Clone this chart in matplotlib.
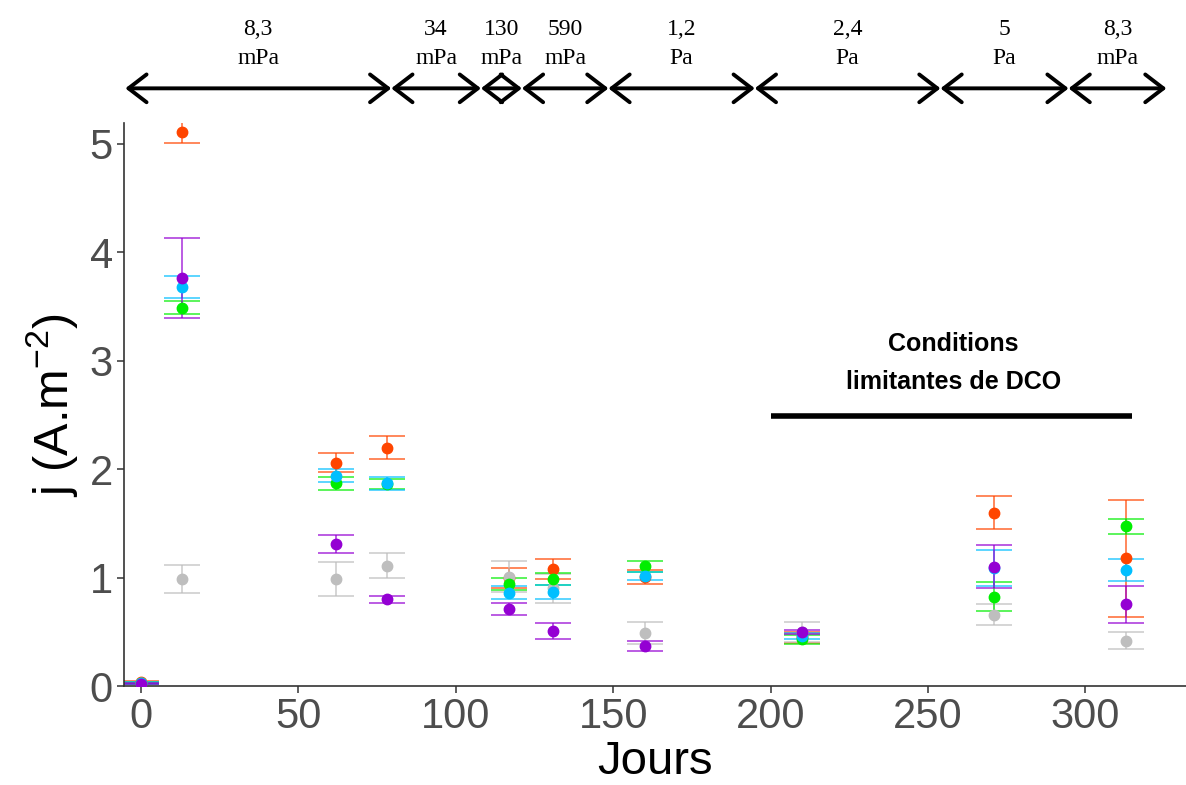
import matplotlib
matplotlib.use('Agg')
import matplotlib.pyplot as plt

# jours de mesure
jours = [0, 13, 62, 78, 117, 131, 160, 210, 271, 313]

# densite de courant moyenne et ecart-type par serie
j_orange = [0.04, 5.11, 2.06, 2.20, 0.995, 1.08, 1.005, 0.45, 1.60, 1.18]
e_orange = [0.01, 0.10, 0.085, 0.11, 0.095, 0.09, 0.065, 0.05, 0.155, 0.54]
j_gris = [0.03, 0.99, 0.99, 1.11, 1.01, 0.90, 0.49, 0.50, 0.66, 0.42]
e_gris = [0.01, 0.13, 0.155, 0.115, 0.14, 0.13, 0.10, 0.09, 0.10, 0.075]
j_vert = [0.03, 3.49, 1.87, 1.86, 0.945, 0.99, 1.105, 0.43, 0.825, 1.475]
e_vert = [0.01, 0.06, 0.06, 0.045, 0.055, 0.055, 0.05, 0.045, 0.135, 0.07]
j_bleu = [0.03, 3.68, 1.94, 1.87, 0.86, 0.87, 1.015, 0.46, 1.09, 1.07]
e_bleu = [0.01, 0.10, 0.06, 0.06, 0.06, 0.065, 0.04, 0.03, 0.165, 0.10]
j_violet = [0.02, 3.76, 1.31, 0.80, 0.71, 0.51, 0.37, 0.50, 1.10, 0.755]
e_violet = [0.005, 0.37, 0.085, 0.03, 0.055, 0.075, 0.05, 0.02, 0.20, 0.17]

# periodes de pression (limites en jours) et etiquettes
limites = [-5, 79.5, 108, 121, 148.5, 195, 254, 294.7, 325.8]
pressions = ['8,3\nmPa', '34\nmPa', '130\nmPa', '590\nmPa', '1,2\nPa',
             '2,4\nPa', '5\nPa', '8,3\nmPa']

series = [
    (j_orange, e_orange, '#FF4500'),
    (j_gris, e_gris, '#BEBEBE'),
    (j_vert, e_vert, '#00EE00'),
    (j_bleu, e_bleu, '#00BFFF'),
    (j_violet, e_violet, '#9400D3'),
]

fig = plt.figure(figsize=(11.86, 7.85), dpi=100)
ax = fig.add_axes([0.1046, 0.126, 0.8954, 0.717])

for j, e, c in series:
    ax.errorbar(jours, j, yerr=e, fmt='none', ecolor=c, elinewidth=1.2,
                capsize=13, capthick=1.2, alpha=0.75, zorder=2)
    ax.plot(jours, j, 'o', color=c, markersize=7.5, zorder=3)

ax.set_xlim(-5.4, 332)
ax.set_ylim(0, 5.19)
ax.set_xticks([0, 50, 100, 150, 200, 250, 300])
ax.set_yticks([0, 1, 2, 3, 4, 5])
for s in ['top', 'right']:
    ax.spines[s].set_visible(False)
for s in ['left', 'bottom']:
    ax.spines[s].set_color('#333333')
    ax.spines[s].set_linewidth(1.2)
ax.tick_params(labelsize=30, colors='#333333', labelcolor='#4D4D4D',
               length=5, width=1.1, pad=3)
for lab in ax.get_xticklabels() + ax.get_yticklabels():
    lab.set_family('Liberation Sans')

ax.set_xlabel('Jours', fontsize=34, family='Liberation Sans', labelpad=2)
ax.set_ylabel(r'j (A.m$^{\mathregular{-2}}$)', fontsize=35,
              family='Liberation Sans', labelpad=6)

# conditions limitantes
ax.plot([200, 315], [2.49, 2.49], color='black', lw=4, solid_capstyle='butt')
ax.text(258, 2.98, 'Conditions\nlimitantes de DCO', ha='center', va='center',
        fontsize=18, family='Liberation Sans', weight='bold',
        linespacing=1.75)

# fleches des periodes de pression
tr = ax.get_xaxis_transform()
for i, lab in enumerate(pressions):
    a, b = limites[i], limites[i + 1]
    ax.annotate('', xy=(b, 1.062), xytext=(a, 1.062), xycoords=tr,
                textcoords=tr, annotation_clip=False,
                arrowprops=dict(arrowstyle='<->, head_length=0.65, head_width=0.5',
                                lw=2.8, color='black', shrinkA=0, shrinkB=0,
                                mutation_scale=20))
    ax.text((a + b) / 2, 1.14, lab, transform=tr, ha='center', va='center',
            fontsize=17, family='Liberation Serif', linespacing=1.5,
            clip_on=False)

plt.savefig('out.png', dpi=100)
